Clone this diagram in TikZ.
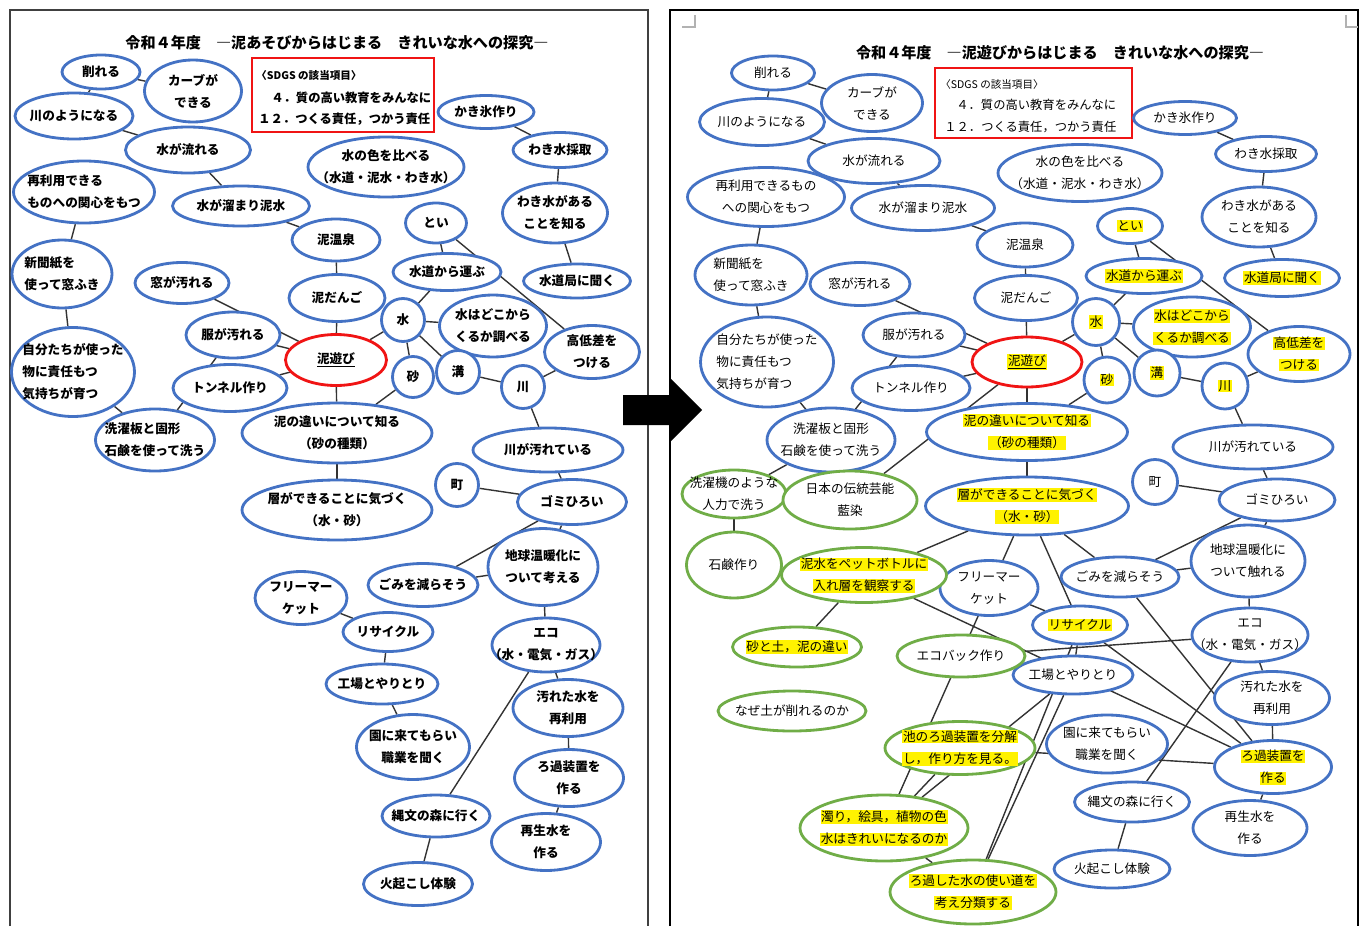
\documentclass[tikz,border=0pt]{standalone}
\usepackage{fontspec}
\setmainfont{Noto Sans CJK JP}
\usetikzlibrary{shapes.geometric,backgrounds}

\definecolor{mapblue}{RGB}{68,114,196}
\definecolor{mapgreen}{RGB}{112,173,71}
\definecolor{mapred}{RGB}{240,20,20}
\newcommand{\hl}[1]{{\setlength{\fboxsep}{0.4pt}\colorbox{yellow}{#1}}}

\tikzset{
  wh/.style 2 args={minimum width=#1*0.02cm, minimum height=#2*0.02cm},
  bubble/.style={ellipse, draw=mapblue, line width=1.6pt, fill=white, align=center,
    inner xsep=-3cm, inner ysep=-1cm, font=\fontsize{7.2}{12.5}\selectfont},
  boldbubble/.style={bubble, font=\fontsize{7.2}{12.5}\selectfont\bfseries},
  greenbubble/.style={bubble, draw=mapgreen},
}

\begin{document}
\begin{tikzpicture}[x=0.02cm,y=-0.02cm]
\useasboundingbox (0,0) rectangle (1368,926);

% pages and arrow
\draw[line width=1pt, black!75] (10,926) -- (10,10) -- (648,10) -- (648,926);
\draw[line width=1.6pt] (670,926) -- (670,10) -- (1358,10) -- (1358,926);
\draw[gray!60, line width=0.6pt] (682,27) -- (695,27) -- (695,15);
\draw[gray!60, line width=0.6pt] (1346,15) -- (1346,27) -- (1358,27);
\fill (623,395) -- (670,395) -- (670,378) -- (702,410) -- (670,442) -- (670,425) -- (623,425) -- cycle;

% left page
\node (lt) at (337,43) {\fontsize{8.6}{10}\selectfont\bfseries 令和４年度　―泥あそびからはじまる　きれいな水への探究―};
\draw[mapred, line width=1pt] (252,58) rectangle (434,132);
\begin{scope}[every node/.style={anchor=west, inner sep=0pt, font=\fontsize{7}{9}\selectfont\bfseries}]
  \node (ls1) at (256,76) {\fontsize{6}{8}\selectfont〈SDGS の該当項目〉};
  \node (ls2) at (271,98) {４．質の高い教育をみんなに};
  \node (ls3) at (258,119) {１２．つくる責任，つかう責任};
\end{scope}

\begin{scope}[every node/.style={boldbubble}]
  \node[wh={78}{34}]  (a1)  at (101,72)  {削れる};
  \node[wh={97}{62}]  (a2)  at (193,91)  {カーブが\\できる};
  \node[wh={118}{46}] (a3)  at (74,116)  {川のようになる};
  \node[wh={125}{46}] (a4)  at (188,150) {水が流れる};
  \node[wh={141}{62},align=left] (a5) at (84,192) {再利用できる\\ものへの関心をもつ};
  \node[wh={137}{40}] (a6)  at (241,206) {水が溜まり泥水};
  \node[wh={156}{60}] (a7)  at (386,167) {水の色を比べる\\（水道・泥水・わき水）};
  \node[wh={96}{33}]  (a8)  at (486,112) {かき氷作り};
  \node[wh={94}{35}]  (a9)  at (560,150) {わき水採取};
  \node[wh={105}{60}] (a10) at (555,213) {わき水がある\\ことを知る};
  \node[wh={88}{42}]  (a11) at (336,240) {泥温泉};
  \node[wh={61}{40}]  (a12) at (436,223) {とい};
  \node[wh={108}{37}] (a13) at (447,272) {水道から運ぶ};
  \node[wh={107}{34}] (a14) at (577,281) {水道局に聞く};
  \node[wh={100}{68},align=left] (a15) at (62,274) {新聞紙を\\使って窓ふき};
  \node[wh={94}{41}]  (a16) at (182,283) {窓が汚れる};
  \node[wh={96}{47}]  (a17) at (337,298) {泥だんご};
  \node[wh={43}{43}]  (a18) at (403,320) {水};
  \node[wh={107}{62}] (a19) at (493,326) {水はどこから\\くるか調べる};
  \node[wh={95}{53}]  (a20) at (592,352) {高低差を\\つける};
  \node[wh={123}{89},align=left] (a21) at (73,372) {自分たちが使った\\物に責任もつ\\気持ちが育つ};
  \node[wh={94}{46}]  (a22) at (233,335) {服が汚れる};
  \node[wh={101}{51},draw=mapred] (a23) at (336,360) {\underline{泥遊び}};
  \node[wh={41}{41}]  (a24) at (413,377) {砂};
  \node[wh={43}{43}]  (a25) at (458,372) {溝};
  \node[wh={43}{43}]  (a26) at (523,387) {川};
  \node[wh={114}{47}] (a27) at (230,388) {トンネル作り};
  \node[wh={119}{62},align=left] (a28) at (155,440) {洗濯板と固形\\石鹸を使って洗う};
  \node[wh={190}{60}] (a29) at (337,433) {泥の違いについて知る\\（砂の種類）};
  \node[wh={150}{44}] (a30) at (548,450) {川が汚れている};
  \node[wh={43}{43}]  (a31) at (457,485) {町};
  \node[wh={109}{45}] (a32) at (572,502) {ゴミひろい};
  \node[wh={190}{60}] (a33) at (337,510) {層ができることに気づく\\（水・砂）};
  \node[wh={110}{77}] (a34) at (543,567) {地球温暖化に\\ついて考える};
  \node[wh={110}{43}] (a35) at (423,585) {ごみを減らそう};
  \node[wh={92}{53}]  (a36) at (301,598) {フリーマー\\ケット};
  \node[wh={90}{39}]  (a37) at (388,632) {リサイクル};
  \node[wh={108}{54}] (a38) at (546,645) {エコ\\（水・電気・ガス）};
  \node[wh={112}{40}] (a39) at (382,684) {工場とやりとり};
  \node[wh={110}{57}] (a40) at (568,708) {汚れた水を\\再利用};
  \node[wh={113}{65}] (a41) at (413,747) {園に来てもらい\\職業を聞く};
  \node[wh={109}{57}] (a42) at (569,778) {ろ過装置を\\作る};
  \node[wh={108}{42}] (a43) at (436,816) {縄文の森に行く};
  \node[wh={109}{57}] (a44) at (546,842) {再生水を\\作る};
  \node[wh={109}{43}] (a45) at (418,884) {火起こし体験};
\end{scope}

% right page
\node (rt) at (1060,53) {\fontsize{8.6}{10}\selectfont\bfseries 令和４年度　―泥遊びからはじまる　きれいな水への探究―};
\draw[mapred, line width=1pt] (935,68) rectangle (1132,138);
\begin{scope}[every node/.style={anchor=west, inner sep=0pt, font=\fontsize{7}{9}\selectfont}]
  \node (rs1) at (940,84) {\fontsize{6}{8}\selectfont〈SDGS の該当項目〉};
  \node (rs2) at (956,105) {４．質の高い教育をみんなに};
  \node (rs3) at (944,127) {１２．つくる責任，つかう責任};
\end{scope}

\begin{scope}[every node/.style={bubble}]
  \node[wh={83}{34}]  (b1)  at (773,73)   {削れる};
  \node[wh={101}{57}] (b2)  at (872,103)  {カーブが\\できる};
  \node[wh={125}{47}] (b3)  at (762,122)  {川のようになる};
  \node[wh={132}{45}] (b4)  at (874,161)  {水が流れる};
  \node[wh={157}{59}] (b5)  at (766,197)  {再利用できるもの\\への関心をもつ};
  \node[wh={143}{45}] (b6)  at (923,208)  {水が溜まり泥水};
  \node[wh={164}{57}] (b7)  at (1080,173) {水の色を比べる\\（水道・泥水・わき水）};
  \node[wh={103}{33}] (b8)  at (1185,118) {かき氷作り};
  \node[wh={101}{35}] (b9)  at (1266,154) {わき水採取};
  \node[wh={114}{60}] (b10) at (1259,217) {わき水がある\\ことを知る};
  \node[wh={96}{44}]  (b11) at (1025,245) {泥温泉};
  \node[wh={65}{35}]  (b12) at (1130,226) {\hl{とい}};
  \node[wh={116}{35}] (b13) at (1144,276) {\hl{水道から運ぶ}};
  \node[wh={115}{37}] (b14) at (1282,278) {\hl{水道局に聞く}};
  \node[wh={112}{60},align=left] (b15) at (751,275) {新聞紙を\\使って窓ふき};
  \node[wh={100}{43}] (b16) at (860,284)  {窓が汚れる};
  \node[wh={103}{45}] (b17) at (1026,298) {泥だんご};
  \node[wh={47}{47}]  (b18) at (1096,322) {\hl{水}};
  \node[wh={117}{60}] (b19) at (1192,327) {\hl{水はどこから}\\\hl{くるか調べる}};
  \node[wh={102}{55}] (b20) at (1299,354) {\hl{高低差を}\\\hl{つける}};
  \node[wh={133}{90},align=left] (b21) at (767,362) {自分たちが使った\\物に責任もつ\\気持ちが育つ};
  \node[wh={102}{44}] (b22) at (914,335)  {服が汚れる};
  \node[wh={110}{50},draw=mapred] (b23) at (1027,362) {\hl{\underline{泥遊び}}};
  \node[wh={46}{46}]  (b24) at (1107,380) {\hl{砂}};
  \node[wh={46}{46}]  (b25) at (1157,373) {\hl{溝}};
  \node[wh={46}{46}]  (b26) at (1225,386) {\hl{川}};
  \node[wh={118}{45}] (b27) at (911,388)  {トンネル作り};
  \node[wh={128}{64}] (b28) at (831,440)  {洗濯板と固形\\石鹸を使って洗う};
  \node[wh={201}{57}] (b29) at (1027,432) {\hl{泥の違いについて知る}\\\hl{（砂の種類）}};
  \node[wh={160}{44}] (b30) at (1253,447) {川が汚れている};
  \node[wh={45}{45}]  (b31) at (1155,482) {町};
  \node[wh={116}{42}] (b32) at (1277,500) {ゴミひろい};
  \node[wh={203}{58}] (b33) at (1027,506) {\hl{層ができることに気づく}\\\hl{（水・砂）}};
  \node[wh={114}{72}] (b34) at (1248,561) {地球温暖化に\\ついて触れる};
  \node[wh={118}{40}] (b35) at (1120,577) {ごみを減らそう};
  \node[wh={98}{55}]  (b36) at (989,588)  {フリーマー\\ケット};
  \node[wh={95}{38}]  (b37) at (1080,625) {\hl{リサイクル}};
  \node[wh={116}{54}] (b38) at (1250,635) {エコ\\（水・電気・ガス）};
  \node[wh={120}{38}] (b39) at (1073,675) {工場とやりとり};
  \node[wh={115}{53}] (b40) at (1272,698) {汚れた水を\\再利用};
  \node[wh={121}{58}] (b41) at (1107,744) {園に来てもらい\\職業を聞く};
  \node[wh={117}{53}] (b42) at (1273,767) {\hl{ろ過装置を}\\\hl{作る}};
  \node[wh={115}{40}] (b43) at (1132,802) {縄文の森に行く};
  \node[wh={114}{55}] (b44) at (1250,828) {再生水を\\作る};
  \node[wh={116}{38}] (b45) at (1112,869) {火起こし体験};
\end{scope}

\begin{scope}[every node/.style={greenbubble}]
  \node[wh={104}{48}] (g1)  at (734,494)  {洗濯機のような\\人力で洗う};
  \node[wh={134}{58}] (g2)  at (850,500)  {日本の伝統芸能\\藍染};
  \node[wh={95}{66}]  (g3)  at (734,565)  {石鹸作り};
  \node[wh={165}{55}] (g4)  at (864,575)  {\hl{泥水をペットボトルに}\\\hl{入れ層を観察する}};
  \node[wh={129}{40}] (g5)  at (797,647)  {\hl{砂と土，泥の違い}};
  \node[wh={128}{42}] (g6)  at (961,656)  {エコバック作り};
  \node[wh={148}{40}] (g7)  at (792,711)  {なぜ土が削れるのか};
  \node[wh={150}{53},align=left] (g8) at (960,748) {\hl{池のろ過装置を分解}\\\hl{し，作り方を見る。}};
  \node[wh={168}{66}] (g9)  at (884,828)  {\hl{濁り，絵具，植物の色}\\\hl{水はきれいになるのか}};
  \node[wh={166}{64}] (g10) at (973,892)  {\hl{ろ過した水の使い道を}\\\hl{考え分類する}};
\end{scope}

\begin{scope}[on background layer, every edge/.style={draw, line width=0.8pt, black!80}]
  \path (a1) edge (a2) (a1) edge (a3) (a3) edge (a4) (a4) edge (a6);
  \path (a6) edge (a11) (a11) edge (a17) (a17) edge (a23);
  \path (a5) edge (a15) (a15) edge (a21) (a21) edge (a28) (a28) edge (a22);
  \path (a22) edge (a23) (a16) edge (a23) (a27) edge (a23);
  \path (a23) edge (a18) (a23) edge (a29) (a18) edge (a13) (a13) edge (a12);
  \path (a12) edge (a20) (a10) edge (a14) (a8) edge (a9) (a9) edge (a10);
  \path (a18) edge (a19) (a18) edge (a24) (a18) edge (a25) (a25) edge (a26);
  \path (a26) edge (a20) (a26) edge (a30) (a24) edge (a29) (a29) edge (a33);
  \path (a30) edge (a32) (a31) edge (a32) (a32) edge (a35) (a32) edge (a34);
  \path (a34) edge (a35) (a34) edge (a38) (a36) edge (a37) (a37) edge (a39);
  \path (a39) edge (a41) (a38) edge (a43) (a38) edge (a40) (a40) edge (a42);
  \path (a42) edge (a44) (a43) edge (a45);

  \path (b1) edge (b2) (b1) edge (b3) (b3) edge (b4) (b4) edge (b6);
  \path (b6) edge (b11) (b11) edge (b17) (b17) edge (b23);
  \path (b5) edge (b15) (b15) edge (b21) (b21) edge (b28) (b28) edge (b22);
  \path (b22) edge (b23) (b16) edge (b23) (b27) edge (b23);
  \path (b23) edge (b18) (b23) edge (b29) (b18) edge (b13) (b13) edge (b12);
  \path (b12) edge (b20) (b10) edge (b14) (b8) edge (b9) (b9) edge (b10);
  \path (b18) edge (b19) (b18) edge (b24) (b18) edge (b25) (b25) edge (b26);
  \path (b26) edge (b20) (b26) edge (b30) (b24) edge (b29) (b29) edge (b33);
  \path (b30) edge (b32) (b31) edge (b32) (b32) edge (b35) (b32) edge (b34);
  \path (b34) edge (b35) (b34) edge (b38) (b36) edge (b37) (b37) edge (b39);
  \path (b38) edge (b43) (b38) edge (b40) (b40) edge (b42);
  \path (b42) edge (b44) (b43) edge (b45);
  \path (b28) edge (g1) (g1) edge (g3) (b23) edge (g2) (b33) edge (g4);
  \path (g4) edge (g5) (g4) edge (b42) (g6) edge (b38) (b37) edge (b42);
  \path (b35) edge (b42) (b33) edge (b35) (b33) edge (b37) (b33) edge (g9);
  \path (b39) edge (g9) (g8) edge (g9) (g8) edge (b42) (g9) edge (g10);
  \path (b37) edge (g10) (b39) edge (g10);
\end{scope}

\end{tikzpicture}
\end{document}
